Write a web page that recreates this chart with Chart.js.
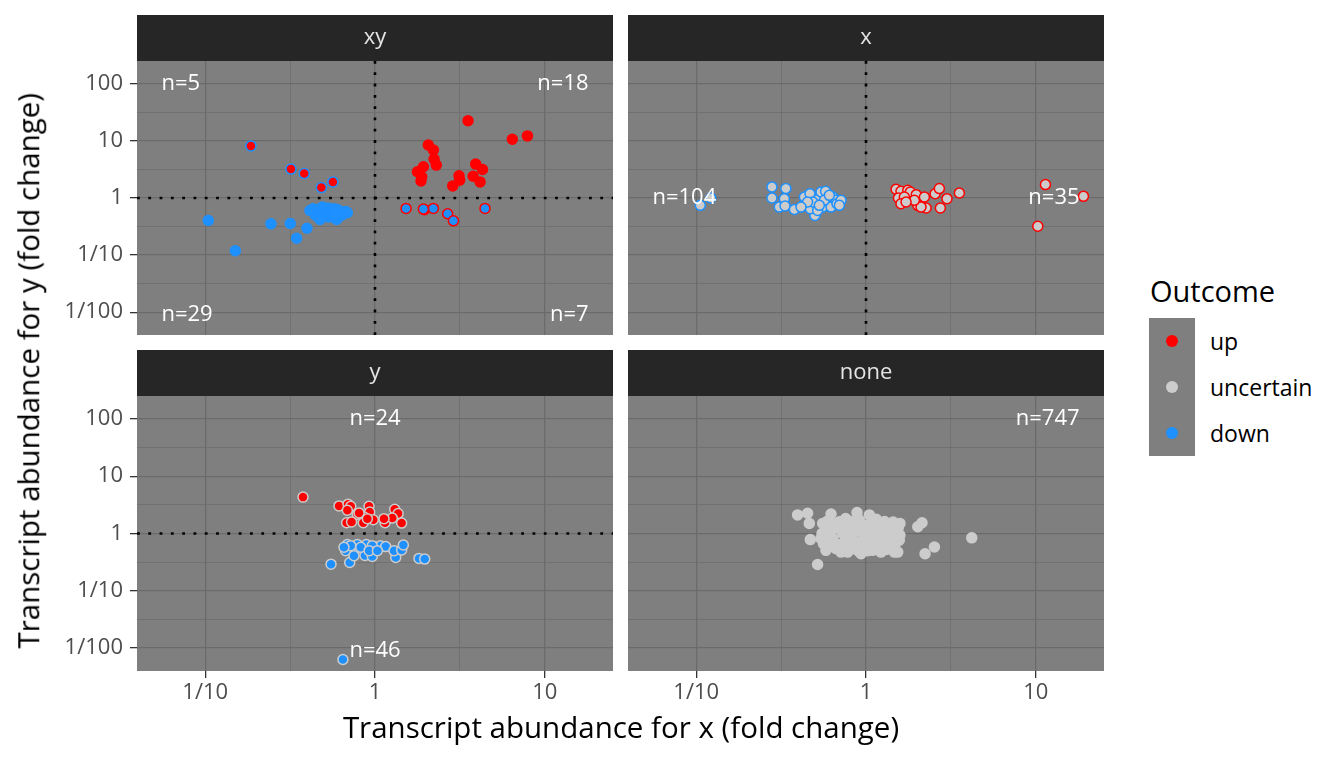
<!DOCTYPE html>
<html>
<head>
<meta charset="utf-8">
<script src="https://cdn.jsdelivr.net/npm/chart.js@4.4.1/dist/chart.umd.min.js"></script>
<style>
  body { margin: 0; background: #fff; width: 1344px; height: 768px; position: relative; overflow: hidden; font-family: "Open Sans", sans-serif; }
  canvas { position: absolute; }
  .txt { position: absolute; white-space: nowrap; line-height: 1; }
  #xTitle { left: 321px; width: 600px; top: 712px; font-size: 29.5px; text-align: center; color: #000; }
  #yTitle { left: -272.5px; width: 600px; top: 356px; font-size: 29.5px; text-align: center; color: #000; transform: rotate(-90deg); }
  #legTitle { left: 1150px; top: 275.5px; font-size: 29px; color: #000; }
  #legBox { position: absolute; left: 1149px; top: 318px; width: 46px; height: 138px; background: #7F7F7F; }
  .dot { position: absolute; left: 17px; width: 12px; height: 12px; border-radius: 50%; }
  .legLab { left: 1210px; font-size: 23px; color: #000; }
</style>
</head>
<body>
<canvas id="pXY" width="613" height="320" style="left:0px;top:15px"></canvas>
<canvas id="pX" width="476" height="320" style="left:628px;top:15px"></canvas>
<canvas id="pY" width="613" height="361" style="left:0px;top:350px"></canvas>
<canvas id="pNone" width="476" height="361" style="left:628px;top:350px"></canvas>

<div class="txt" id="xTitle">Transcript abundance for x (fold change)</div>
<div class="txt" id="yTitle">Transcript abundance for y (fold change)</div>
<div class="txt" id="legTitle">Outcome</div>
<div id="legBox"></div>

<script>
// все значения — log10 кратности изменения (fold change)
const X_LIM = 1.402;
const Y_LIM = 2.40;
const xGrid = [-1, -0.5, 0, 0.5, 1];
const yGrid = [-2, -1.5, -1, -0.5, 0, 0.5, 1, 1.5, 2];
const tickValues = [-2, -1, 0, 1, 2];
const tickLabels = ['1/100', '1/10', '1', '10', '100'];
const outcomes = ['up', 'uncertain', 'down'];

// панель "xy"
const xyDownUpX = [-0.731, -0.495, -0.417, -0.316, -0.248];
const xyDownUpY = [0.912, 0.506, 0.429, 0.182, 0.282];
const xyUpUpX = [0.548, 0.809, 0.898, 0.314, 0.344, 0.348, 0.361, 0.285, 0.250, 0.271, 0.495, 0.458, 0.499, 0.593, 0.633, 0.578, 0.619, 0.275];
const xyUpUpY = [1.353, 1.029, 1.088, 0.929, 0.841, 0.682, 0.576, 0.547, 0.459, 0.300, 0.388, 0.212, 0.312, 0.594, 0.500, 0.382, 0.282, 0.371];
const xyUpDownX = [0.183, 0.291, 0.344, 0.428, 0.462, 0.648, 0.285];
const xyUpDownY = [-0.182, -0.206, -0.182, -0.276, -0.400, -0.182, -0.194];
const xyDownDownX = [-0.982, -0.823, -0.613, -0.499, -0.462, -0.401, -0.365, -0.340, -0.320, -0.301, -0.277, -0.261, -0.242, -0.226, -0.212, -0.183, -0.198, -0.350, -0.330, -0.291, -0.251, -0.222, -0.173, -0.383, -0.310, -0.271, -0.163, -0.236, -0.324];
const xyDownDownY = [-0.394, -0.924, -0.453, -0.447, -0.706, -0.529, -0.188, -0.247, -0.335, -0.218, -0.176, -0.306, -0.188, -0.376, -0.247, -0.247, -0.306, -0.306, -0.200, -0.276, -0.259, -0.200, -0.235, -0.218, -0.159, -0.335, -0.259, -0.306, -0.376];
const xyCounts = ['n=5', 'n=18', 'n=29', 'n=7'];

// панель "x"
const xDownX = [-0.976, -0.914, -0.554, -0.472, -0.554, -0.481, -0.511, -0.477, -0.422, -0.369, -0.363, -0.330, -0.285, -0.301, -0.328, -0.265, -0.238, -0.196, -0.191, -0.226, -0.255, -0.285, -0.206, -0.177, -0.314, -0.344, -0.246, -0.216, -0.171, -0.275, -0.383, -0.147, -0.157];
const xDownY = [-0.129, 0.000, 0.194, 0.165, 0.000, -0.012, -0.159, -0.141, -0.200, -0.129, 0.018, 0.076, -0.029, -0.306, -0.188, 0.106, 0.118, 0.018, -0.071, -0.129, -0.159, -0.218, -0.159, -0.041, -0.071, -0.071, -0.041, 0.047, -0.100, -0.129, -0.159, -0.041, -0.129];
const xUpX = [0.177, 0.206, 0.246, 0.261, 0.191, 0.226, 0.206, 0.296, 0.344, 0.305, 0.354, 0.324, 0.407, 0.432, 0.477, 0.438, 0.550, 0.285, 0.236, 1.057, 1.281, 1.012];
const xUpY = [0.153, 0.118, 0.135, 0.106, 0.000, 0.018, -0.100, 0.059, 0.018, -0.129, -0.176, -0.159, 0.076, 0.165, -0.012, -0.176, 0.088, -0.041, -0.071, 0.235, 0.029, -0.494];
const xCounts = ['n=104', 'n=35'];

// панель "y"
const yUpX = [-0.424, -0.212, -0.159, -0.143, -0.163, -0.104, -0.035, -0.031, -0.065, -0.010, -0.167, -0.138, -0.069, 0.059, 0.116, 0.136, 0.157, 0.102, 0.053, -0.094, -0.045];
const yUpY = [0.635, 0.482, 0.512, 0.476, 0.406, 0.335, 0.476, 0.376, 0.288, 0.241, 0.188, 0.200, 0.188, 0.188, 0.424, 0.347, 0.182, 0.271, 0.259, 0.359, 0.259];
const yDownX = [-0.189, -0.259, -0.149, -0.163, -0.120, -0.173, -0.124, -0.059, -0.051, -0.016, 0.004, 0.033, -0.016, -0.104, -0.084, 0.063, 0.122, 0.112, 0.157, 0.167, 0.259, 0.293, -0.143, -0.035, -0.183, 0.014];
const yDownY = [-2.200, -0.535, -0.506, -0.194, -0.288, -0.300, -0.388, -0.382, -0.194, -0.400, -0.241, -0.212, -0.212, -0.194, -0.241, -0.229, -0.418, -0.300, -0.288, -0.200, -0.435, -0.447, -0.212, -0.300, -0.241, -0.300];
const yCounts = ['n=24', 'n=46'];

// панель "none"
const noneX = [-0.403, -0.344, -0.334, -0.328, -0.285, -0.206, -0.053, 0.020, 0.187, 0.187, 0.305, 0.330, 0.348, 0.403, 0.623,
  -0.255, -0.259, -0.251, -0.236, -0.216, -0.187, -0.196, -0.177, -0.157, -0.138, -0.128, -0.108, -0.098, -0.079, -0.069, -0.049,
  -0.039, -0.020, -0.010, -0.029, 0.004, 0.029, 0.049, 0.059, 0.039, 0.079, 0.098, 0.108, 0.088, 0.128, 0.147, 0.157, 0.177,
  0.196, 0.200, 0.167, -0.226, -0.147, -0.059, 0.016, 0.118, -0.118, -0.088, 0.069, -0.265,
  -0.24, -0.21, -0.17, -0.16, -0.13, -0.11, -0.09, -0.06, -0.04, -0.02, 0.01, 0.03, 0.04, 0.07, 0.09,
  0.11, 0.13, 0.14, 0.17, 0.19, -0.20, -0.14, -0.07, 0.01, 0.12, -0.23, 0.06, -0.12, 0.16, 0.20];
const noneY = [0.324, 0.353, 0.176, -0.106, -0.541, 0.341, 0.365, 0.324, -0.324, 0.147, 0.118, 0.188, -0.353, -0.235, -0.076,
  0.176, 0.000, -0.176, -0.294, 0.235, 0.088, -0.088, -0.265, 0.206, 0.000, -0.176, -0.324, 0.176, 0.029, -0.118, -0.294,
  0.235, 0.088, -0.059, -0.353, -0.206, 0.206, 0.029, -0.118, -0.294, 0.176, -0.029, -0.206, -0.324, 0.147, -0.059, -0.235, 0.059,
  -0.118, 0.176, -0.324, 0.029, -0.324, 0.147, 0.000, 0.059, -0.088, -0.235, -0.235, -0.088,
  0.12, -0.03, 0.15, -0.19, 0.08, -0.05, 0.21, 0.04, -0.19, 0.15, 0.09, -0.07, -0.21, 0.12, -0.14,
  0.21, -0.12, 0.05, -0.20, 0.10, -0.15, -0.27, -0.26, -0.30, -0.28, 0.21, 0.25, 0.26, 0.20, -0.03];
const noneCounts = ['n=747'];

const FONT = '"Open Sans", sans-serif';
const STRIP_H = 46;
const colorOf = { up: '#FF0000', uncertain: '#CCCCCC', down: '#1E90FF' };

function pts(xs, ys) {
  return xs.map((x, i) => ({ x: x, y: ys[i] }));
}

function isMajor(v) {
  return Math.abs(v - Math.round(v)) < 1e-6;
}

function tickText(v) {
  const i = tickValues.indexOf(Math.round(v));
  return isMajor(v) && i >= 0 ? tickLabels[i] : '';
}

// фон панели, полоса с заголовком и подписи n=
const panelDecor = {
  id: 'panelDecor',
  beforeDraw(chart, args, o) {
    const ctx = chart.ctx, a = chart.chartArea;
    ctx.save();
    ctx.fillStyle = '#7F7F7F';
    ctx.fillRect(a.left, a.top, a.right - a.left, a.bottom - a.top);
    ctx.fillStyle = '#262626';
    ctx.fillRect(a.left, a.top - STRIP_H, a.right - a.left, STRIP_H);
    ctx.fillStyle = '#E5E5E5';
    ctx.font = '22px ' + FONT;
    ctx.textAlign = 'center';
    ctx.textBaseline = 'middle';
    ctx.fillText(o.title, (a.left + a.right) / 2, a.top - STRIP_H / 2);
    ctx.restore();
  },
  afterDatasetsDraw(chart, args, o) {
    const ctx = chart.ctx;
    ctx.save();
    ctx.fillStyle = '#FFFFFF';
    ctx.font = '22px ' + FONT;
    ctx.textBaseline = 'middle';
    o.labels.forEach(l => {
      ctx.textAlign = l.align;
      ctx.fillText(l.text, chart.scales.x.getPixelForValue(l.x), chart.scales.y.getPixelForValue(l.y));
    });
    ctx.restore();
  }
};

function refLine(data) {
  return {
    data: data, showLine: true, pointRadius: 0, borderColor: '#000000',
    borderWidth: 2.6, borderDash: [2.8, 8.5], fill: false, order: 5
  };
}

function axis(min, max, grid, showTicks, isX) {
  return {
    type: 'linear', min: min, max: max,
    afterBuildTicks: s => { s.ticks = grid.map(v => ({ value: v })); },
    afterFit: s => {
      if (isX) s.height = showTicks ? 40 : 0;
      else s.width = showTicks ? 137 : 0;
      // без лишних отступов, чтобы области панелей совпадали
      s.paddingTop = 0; s.paddingBottom = 0; s.paddingLeft = 0; s.paddingRight = 0;
    },
    border: { display: false },
    grid: {
      color: '#6B6B6B',
      lineWidth: c => isMajor(c.tick.value) ? 1.3 : 0.7,
      drawTicks: showTicks,
      tickLength: 7,
      tickWidth: 1.3,
      tickColor: c => isMajor(c.tick.value) ? '#333333' : 'rgba(0,0,0,0)'
    },
    ticks: {
      display: showTicks, autoSkip: false, maxRotation: 0,
      padding: isX ? 2 : 7, color: '#4D4D4D',
      font: { family: FONT, size: 22 },
      callback: v => tickText(v)
    }
  };
}

function makePanel(id, cfg) {
  const datasets = [];
  if (cfg.hline) datasets.push(refLine([{ x: -X_LIM, y: 0 }, { x: X_LIM, y: 0 }]));
  if (cfg.vline) datasets.push(refLine([{ x: 0, y: -Y_LIM }, { x: 0, y: Y_LIM }]));
  cfg.groups.forEach(g => {
    datasets.push({
      data: pts(g.x, g.y),
      backgroundColor: colorOf[g.yOut],
      borderColor: colorOf[g.xOut],
      borderWidth: 1.5, pointRadius: 5, pointHoverRadius: 5, order: 1
    });
  });
  new Chart(document.getElementById(id), {
    type: 'scatter',
    data: { datasets: datasets },
    options: {
      responsive: false, animation: false, events: [],
      layout: { padding: { top: STRIP_H, left: 0, right: 0, bottom: 0 }, autoPadding: false },
      scales: {
        x: axis(-X_LIM, X_LIM, xGrid, cfg.xTicks, true),
        y: axis(-Y_LIM, Y_LIM, yGrid, cfg.yTicks, false)
      },
      plugins: {
        legend: { display: false },
        tooltip: { enabled: false },
        panelDecor: { title: cfg.title, labels: cfg.labels }
      }
    },
    plugins: [panelDecor]
  });
}

makePanel('pXY', {
  title: 'xy', xTicks: false, yTicks: true, hline: true, vline: true,
  groups: [
    { x: xyDownDownX, y: xyDownDownY, xOut: 'down', yOut: 'down' },
    { x: xyUpUpX, y: xyUpUpY, xOut: 'up', yOut: 'up' },
    { x: xyUpDownX, y: xyUpDownY, xOut: 'up', yOut: 'down' },
    { x: xyDownUpX, y: xyDownUpY, xOut: 'down', yOut: 'up' }
  ],
  labels: [
    { text: xyCounts[0], x: -1.258, y: 2, align: 'left' },
    { text: xyCounts[1], x: 1.258, y: 2, align: 'right' },
    { text: xyCounts[2], x: -1.258, y: -2.04, align: 'left' },
    { text: xyCounts[3], x: 1.258, y: -2.04, align: 'right' }
  ]
});

makePanel('pX', {
  title: 'x', xTicks: false, yTicks: false, hline: false, vline: true,
  groups: [
    { x: xDownX, y: xDownY, xOut: 'down', yOut: 'uncertain' },
    { x: xUpX, y: xUpY, xOut: 'up', yOut: 'uncertain' }
  ],
  labels: [
    { text: xCounts[0], x: -1.258, y: 0, align: 'left' },
    { text: xCounts[1], x: 1.258, y: 0, align: 'right' }
  ]
});

makePanel('pY', {
  title: 'y', xTicks: true, yTicks: true, hline: true, vline: false,
  groups: [
    { x: yDownX, y: yDownY, xOut: 'uncertain', yOut: 'down' },
    { x: yUpX, y: yUpY, xOut: 'uncertain', yOut: 'up' }
  ],
  labels: [
    { text: yCounts[0], x: 0, y: 2, align: 'center' },
    { text: yCounts[1], x: 0, y: -2.04, align: 'center' }
  ]
});

makePanel('pNone', {
  title: 'none', xTicks: true, yTicks: false, hline: false, vline: false,
  groups: [
    { x: noneX, y: noneY, xOut: 'uncertain', yOut: 'uncertain' }
  ],
  labels: [
    { text: noneCounts[0], x: 1.258, y: 2, align: 'right' }
  ]
});

// легенда
const legBox = document.getElementById('legBox');
outcomes.forEach((name, i) => {
  const d = document.createElement('div');
  d.className = 'dot';
  d.style.top = (17 + i * 46) + 'px';
  d.style.background = colorOf[name];
  legBox.appendChild(d);
  const t = document.createElement('div');
  t.className = 'txt legLab';
  t.style.top = (318 + 23 + i * 46 - 11.5) + 'px';
  t.textContent = name;
  document.body.appendChild(t);
});
</script>
</body>
</html>
